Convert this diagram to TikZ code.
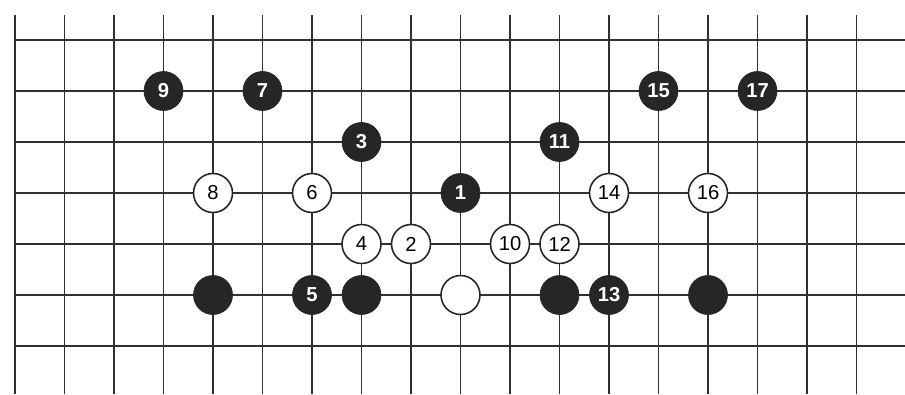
\documentclass[tikz,border=0pt]{standalone}
\usepackage{fontspec}
\setsansfont{Liberation Sans}
\usepackage{xcolor}
\usepackage{tikz}
\definecolor{stoneblack}{HTML}{262626}
\definecolor{gridgray}{HTML}{303030}
\tikzset{
  gridline/.style   = {draw=gridgray, line width=1.1pt},
  blackstone/.style = {circle, draw=stoneblack, fill=stoneblack, minimum size=0.78cm,
                       inner sep=0pt, text=white,
                       font=\sffamily\bfseries\fontsize{11.5}{12}\selectfont},
  whitestone/.style = {circle, draw=stoneblack, fill=white, line width=0.9pt,
                       minimum size=0.78cm, inner sep=0pt, text=black,
                       font=\sffamily\fontsize{11.5}{12}\selectfont},
}

\begin{document}
\begin{tikzpicture}[x=0.99cm,y=-1.02cm]

  \useasboundingbox (-0.30cm,0.80cm) rectangle (17.80cm,-7.08cm);

  % Grid
  \foreach \i in {0,...,17} {
    \draw[gridline] (\i,-0.49) -- (\i,6.94);
  }
  \foreach \j in {0,...,6} {
    \draw[gridline] (0,\j) -- (17.98,\j);
  }

  % Stones already on the board
  \node[blackstone] (bA) at (4,5) {};
  \node[blackstone] (bB) at (7,5) {};
  \node[blackstone] (bC) at (11,5) {};
  \node[blackstone] (bD) at (14,5) {};
  \node[whitestone] (wA) at (9,5) {};

  % Black moves
  \node[blackstone] (b1) at (9,3) {1};
  \node[blackstone] (b3) at (7,2) {3};
  \node[blackstone] (b5) at (6,5) {5};
  \node[blackstone] (b7) at (5,1) {7};
  \node[blackstone] (b9) at (3,1) {9};
  \node[blackstone] (b11) at (11,2) {11};
  \node[blackstone] (b13) at (12,5) {13};
  \node[blackstone] (b15) at (13,1) {15};
  \node[blackstone] (b17) at (15,1) {17};

  % White moves
  \node[whitestone] (w2) at (8,4) {2};
  \node[whitestone] (w4) at (7,4) {4};
  \node[whitestone] (w6) at (6,3) {6};
  \node[whitestone] (w8) at (4,3) {8};
  \node[whitestone] (w10) at (10,4) {10};
  \node[whitestone] (w12) at (11,4) {12};
  \node[whitestone] (w14) at (12,3) {14};
  \node[whitestone] (w16) at (14,3) {16};

\end{tikzpicture}
\end{document}
